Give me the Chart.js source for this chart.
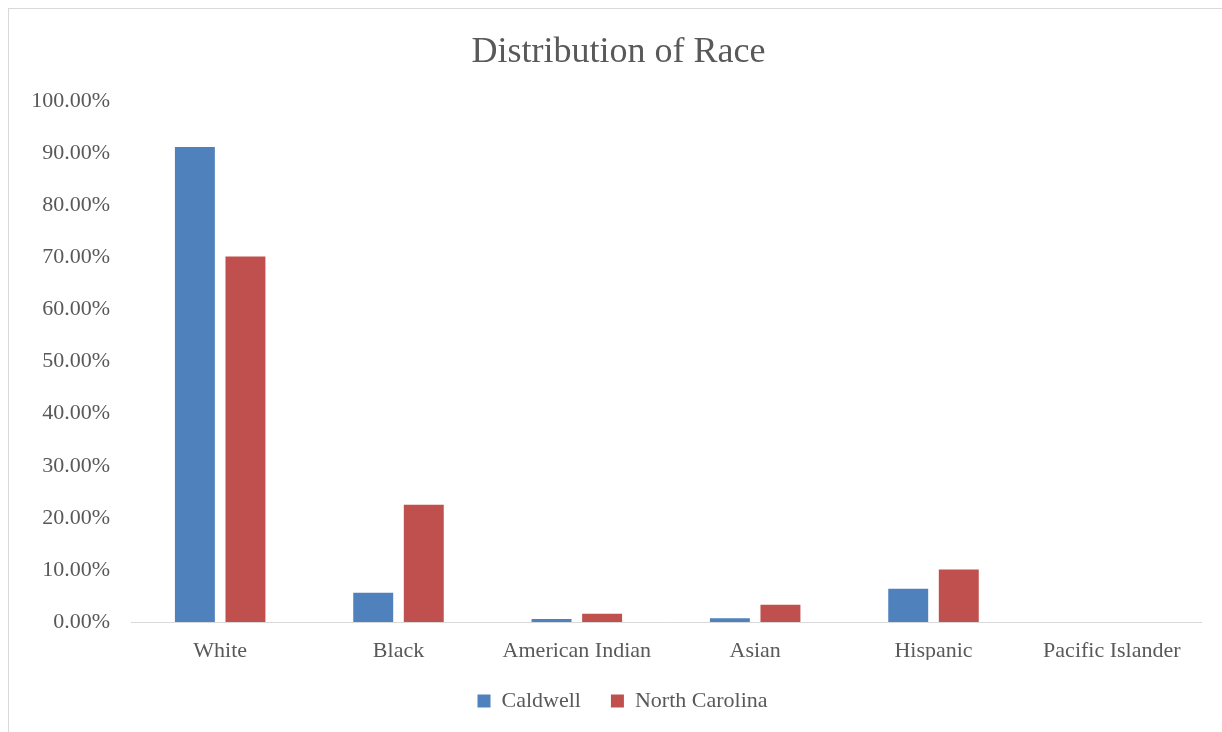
<!DOCTYPE html>
<html>
<head>
<meta charset="utf-8">
<script src="https://cdn.jsdelivr.net/npm/chart.js@4"></script>
<style>
  html, body { margin: 0; padding: 0; background: #fff; }
  #frame {
    position: absolute; left: 8px; top: 8px; width: 1214px; height: 724px;
    border-left: 1px solid #d9d9d9; border-top: 1px solid #d9d9d9;
  }
  #wrap { position: absolute; left: 0; top: 0; width: 1222px; height: 732px; }
</style>
</head>
<body>
<div id="frame"></div>
<div id="wrap"><canvas id="chart"></canvas></div>
<script>
// Données (en %)
const categories = ['White', 'Black', 'American Indian', 'Asian', 'Hispanic', 'Pacific Islander'];
const caldwell   = [91.2, 5.6, 0.6, 0.7, 6.4, 0];
const northCarolina = [70.2, 22.5, 1.6, 3.3, 10.1, 0];

const FONT = '"Liberation Serif", "DejaVu Serif", serif';
const GREY = '#595959';

// Décale titre et légende pour les centrer comme dans l'original
const boxShift = {
  id: 'boxShift',
  afterLayout(chart) {
    chart.legend.left += 22;
    chart.legend.right += 22;
    chart.titleBlock.left += 18;
    chart.titleBlock.right += 18;
  },
};

new Chart(document.getElementById('chart'), {
  type: 'bar',
  data: {
    labels: categories,
    datasets: [
      { label: 'Caldwell',       data: caldwell,      backgroundColor: '#4F81BD' },
      { label: 'North Carolina', data: northCarolina, backgroundColor: '#C0504D' },
    ],
  },
  options: {
    responsive: true, maintainAspectRatio: false, animation: false,
    categoryPercentage: 0.567, barPercentage: 0.79,
    layout: { padding: { top: 31, left: 0, right: 21, bottom: 10 } },
    plugins: {
      title: {
        display: true, text: 'Distribution of Race', color: GREY,
        font: { family: FONT, size: 36, weight: 'normal' },
        padding: { top: 0, bottom: 27 },
      },
      legend: {
        position: 'bottom',
        labels: {
          color: GREY, font: { family: FONT, size: 22 },
          boxWidth: 13, boxHeight: 13, padding: 30,
        },
      },
      tooltip: { enabled: false },
    },
    scales: {
      x: {
        grid: { display: false, drawTicks: false },
        border: { display: true, color: '#d9d9d9', width: 1 },
        ticks: { color: GREY, font: { family: FONT, size: 22 }, padding: 16, maxRotation: 0 },
        afterFit: s => { s.height = 38; },
      },
      y: {
        min: 0, max: 100,
        grid: { display: false, drawTicks: false },
        border: { display: false },
        ticks: {
          stepSize: 10, color: GREY, font: { family: FONT, size: 22 }, padding: 21,
          callback: v => v.toFixed(2) + '%',
        },
        afterFit: s => { s.width = 131; },
      },
    },
  },
  plugins: [boxShift],
});
</script>
</body>
</html>
